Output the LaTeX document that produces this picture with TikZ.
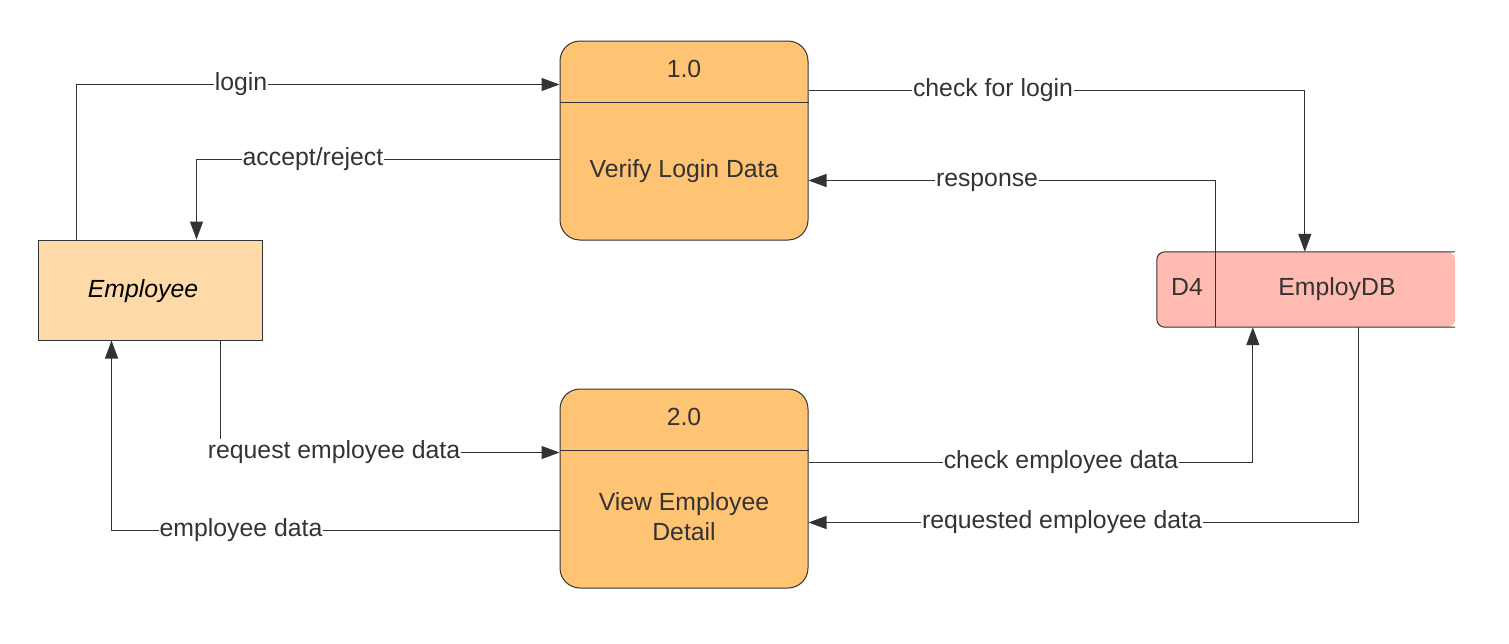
\documentclass[tikz,border=0pt]{standalone}
\usepackage{fontspec}
\setmainfont{Liberation Sans}
\usetikzlibrary{arrows.meta}
\definecolor{procfill}{HTML}{FFC374}
\definecolor{empfill}{HTML}{FFDAA9}
\definecolor{dbfill}{HTML}{FFBBB2}
\definecolor{ink}{HTML}{333333}
\begin{document}
\begin{tikzpicture}[x=1pt,y=-1pt,
  procbox/.style={draw=ink,fill=procfill,line width=1pt,rounded corners=20pt,minimum width=248pt,minimum height=199pt,inner sep=0pt},
  entbox/.style={draw=ink,fill=empfill,line width=1pt,minimum width=224pt,minimum height=100pt,inner sep=0pt},
  dbnode/.style={minimum width=298pt,minimum height=75pt,inner sep=0pt},
  txt/.style={text=ink,font=\fontsize{24.8}{30}\selectfont,anchor=base,inner sep=0pt},
  lbl/.style={text=ink,font=\fontsize{24.8}{30}\selectfont,anchor=base,fill=white,inner xsep=1pt,inner ysep=2pt},
  flow/.style={draw=ink,line width=1.1pt,-{Triangle[length=18pt,width=13pt]}}
]
\useasboundingbox (0,0) rectangle (1509,643);
\fill[white] (0,0) rectangle (1509,643);

% entity
\node[entbox] (emp) at (150,290) {};
\node[txt,text=black,font=\fontsize{24.8}{30}\selectfont\itshape] (empt) at (143,297) {Employee};

% processes
\node[procbox] (p1) at (684,140.5) {};
\draw[ink,line width=1pt] ([yshift=-62pt]p1.north west) -- ([yshift=-62pt]p1.north east);
\node[txt] (p1n) at (684,77) {1.0};
\node[txt] (p1t) at (684,177) {Verify Login Data};

\node[procbox] (p2) at (684,488.5) {};
\draw[ink,line width=1pt] ([yshift=-62pt]p2.north west) -- ([yshift=-62pt]p2.north east);
\node[txt] (p2n) at (684,425) {2.0};
\node[txt] (p2a) at (684,510) {View Employee};
\node[txt] (p2b) at (684,540) {Detail};

% data store
\node[dbnode] (db) at (1306,289.5) {};
\fill[dbfill,rounded corners=8pt] (db.north west) rectangle (db.south east);
\draw[ink,line width=1pt,rounded corners=8pt] (db.north east) -- (db.north west) -- (db.south west) -- (db.south east);
\draw[ink,line width=1pt] ([xshift=59pt]db.north west) -- ([xshift=59pt]db.south west);
\node[txt] (dbid) at (1187,295) {D4};
\node[txt] (dbname) at (1337,295) {EmployDB};

% flows
\draw[flow] ([xshift=39pt]emp.north west) |- ([yshift=-44pt]p1.north west);
\draw[flow] ([yshift=-119pt]p1.north west) -| ([xshift=159pt]emp.north west);
\draw[flow] ([yshift=-50pt]p1.north east) -| ([xshift=148pt]db.north west);
\draw[flow] ([xshift=59pt]db.north west) |- ([yshift=-140pt]p1.north east);
\draw[flow] ([xshift=183pt]emp.south west) |- ([yshift=-64pt]p2.north west);
\draw[flow] ([yshift=-142pt]p2.north west) -| ([xshift=74pt]emp.south west);
\draw[flow] ([yshift=-74pt]p2.north east) -| ([xshift=96pt]db.south west);
\draw[flow] ([xshift=202pt]db.south west) |- ([yshift=-134pt]p2.north east);

% labels
\node[lbl] (l1) at (241,90.5) {login};
\node[lbl] (l2) at (313,165.5) {accept/reject};
\node[lbl] (l3) at (993,96.5) {check for login};
\node[lbl] (l4) at (987,186.5) {response};
\node[lbl] (l5) at (334,458.5) {request employee data};
\node[lbl] (l6) at (241,536.5) {employee data};
\node[lbl] (l7) at (1061,468.5) {check employee data};
\node[lbl] (l8) at (1062,528.5) {requested employee data};
\end{tikzpicture}
\end{document}
